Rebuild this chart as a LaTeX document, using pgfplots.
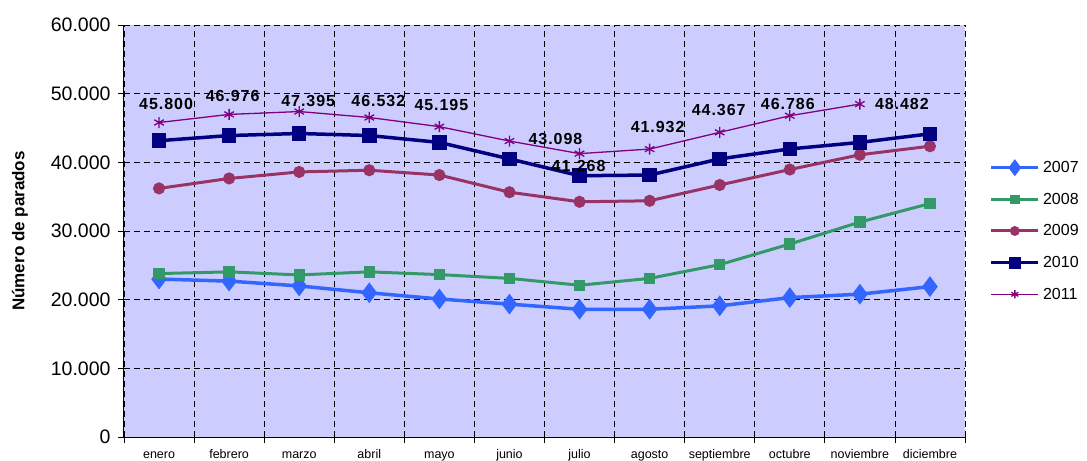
\documentclass[border=0pt]{standalone}
\usepackage{pgfplots}
\pgfplotsset{compat=1.18}
\usetikzlibrary{calc}
\usepackage{fontspec}
\setmainfont{Liberation Sans}
\newfontfamily\lblfont[LetterSpace=6]{Liberation Sans}
\definecolor{c07}{HTML}{3366FF}
\definecolor{c08}{HTML}{339966}
\definecolor{c09}{HTML}{993366}
\definecolor{c10}{HTML}{000080}
\definecolor{c11}{HTML}{800080}
\definecolor{bg}{HTML}{CCCCFF}
\begin{document}
\begin{tikzpicture}
\begin{axis}[
  scale only axis, width=841bp, height=412bp,
  xmin=0.5, xmax=12.5, ymin=0, ymax=60000,
  axis lines*=left,
  axis background/.style={fill=bg},
  /pgf/number format/assume math mode=true,
  /pgf/number format/1000 sep={.},
  scaled y ticks=false,
  ytick={0,10000,...,60000},
  yticklabel style={font=\fontsize{19.5bp}{22bp}\selectfont, xshift=-4bp},
  xtick={0.5,1.5,...,12.5}, xticklabels={},
  extra x ticks={1,...,12},
  extra x tick labels={enero,febrero,marzo,abril,mayo,junio,julio,agosto,septiembre,octubre,noviembre,diciembre},
  extra x tick style={major tick length=0pt, grid=none, xticklabel style={font=\fontsize{12.5bp}{14bp}\selectfont, text height=9.5bp, text depth=2.5bp, anchor=north, yshift=-8bp}},
  tick align=outside, major tick length=6bp,
  tick style={black, line width=0.8bp},
  axis line style={black, line width=1bp},
  xmajorgrids, ymajorgrids,
  major grid style={black, line width=0.7bp, dash pattern=on 6bp off 4bp},
  every axis y label/.style={at={(rel axis cs:0,0.5)}, xshift=-104bp, rotate=90, anchor=center, font=\fontsize{17bp}{20bp}\selectfont\bfseries},
  ylabel={Número de parados},
  legend style={draw=none, fill=none, at={(rel axis cs:1.029,0.5)}, anchor=west,
    font=\fontsize{16bp}{19bp}\selectfont, row sep=15bp, inner sep=0pt,
    nodes={inner xsep=3bp}},
  legend cell align=left,
  legend image code/.code={\draw[mark repeat=2,mark phase=2,#1,every mark/.append style={scale=0.75}] plot coordinates {(0bp,0bp)(23.5bp,0bp)(47bp,0bp)};},
  clip=false,
]
\coordinate (bl) at (rel axis cs:0,0);
\coordinate (tr) at (rel axis cs:1,1);
\addplot[c07, line width=3.5bp, mark=diamond*, mark size=7.5bp, mark options={solid, fill=c07}] coordinates {
(1,23000)(2,22700)(3,22000)(4,21000)(5,20100)(6,19350)(7,18600)(8,18600)(9,19100)(10,20300)(11,20800)(12,21900)};
\addlegendentry{2007}
\addplot[c08, line width=3bp, mark=square*, mark size=4.2bp, mark options={solid, fill=c08}] coordinates {
(1,23800)(2,24050)(3,23600)(4,24050)(5,23650)(6,23100)(7,22100)(8,23100)(9,25100)(10,28100)(11,31300)(12,34000)};
\addlegendentry{2008}
\addplot[c09, line width=3bp, mark=*, mark size=4.5bp, mark options={solid, fill=c09}] coordinates {
(1,36200)(2,37650)(3,38600)(4,38850)(5,38150)(6,35650)(7,34250)(8,34400)(9,36700)(10,38950)(11,41100)(12,42350)};
\addlegendentry{2009}
\addplot[c10, line width=3.5bp, mark=square*, mark size=5.5bp, mark options={solid, fill=c10}] coordinates {
(1,43150)(2,43900)(3,44200)(4,43900)(5,42900)(6,40500)(7,38050)(8,38150)(9,40500)(10,41950)(11,42900)(12,44150)};
\addlegendentry{2010}
\addplot[c11, line width=1.3bp, mark=asterisk, mark size=5.5bp, mark options={solid, line width=1.3bp},
  visualization depends on={\thisrow{dx} \as \dx},
  visualization depends on={\thisrow{dy} \as \dy},
  nodes near coords,
  every node near coord/.append style={black, anchor=center, xshift=\dx bp, yshift=\dy bp,
    font=\lblfont\fontsize{16bp}{18bp}\selectfont\bfseries},
] table[x=x, y=y] {
x y dx dy
1 45800 7 18.5
2 46976 3.5 18
3 47395 9 11
4 46532 9 16
5 45195 2 22
6 43098 46 2
7 41268 -1 -12
8 41932 8 22
9 44367 -1 22.6
10 46786 -2 12
11 48482 42 0
};
\addlegendentry{2011}
\end{axis}
\pgfresetboundingbox
\path ($(bl)+(-124bp,-24bp)$) rectangle ($(tr)+(122bp,25bp)$);
\end{tikzpicture}
\end{document}
